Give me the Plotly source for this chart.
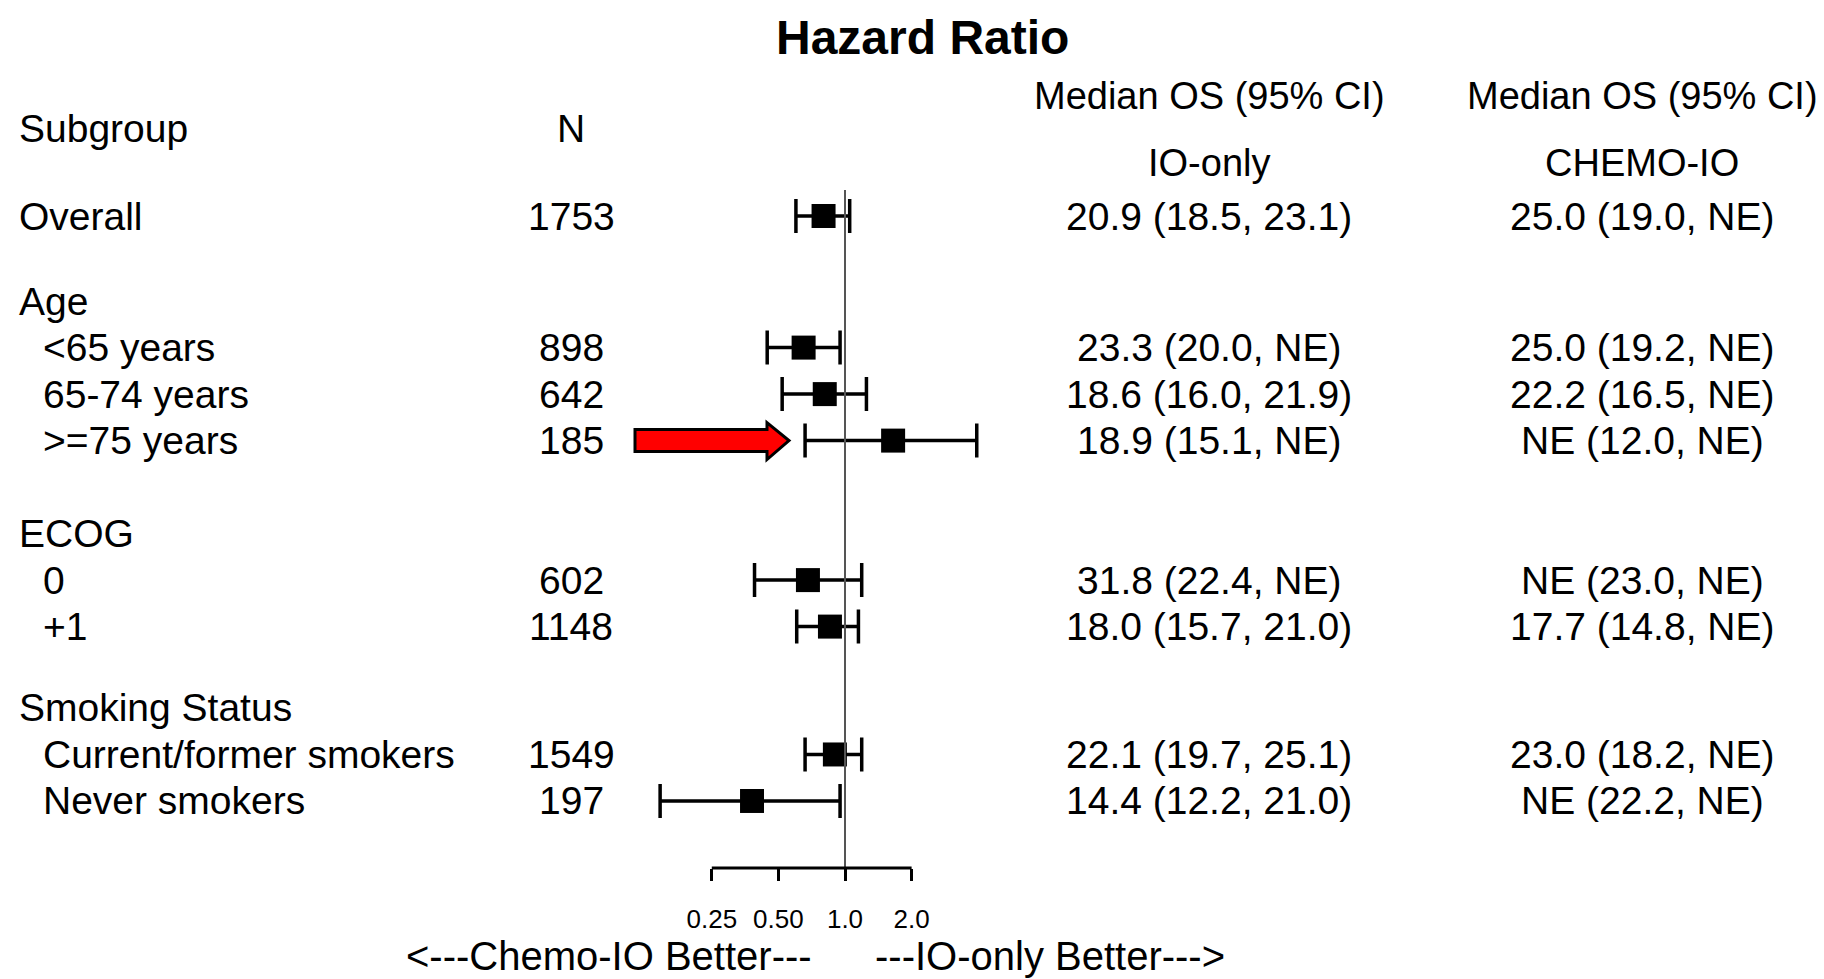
import plotly.graph_objects as go

# ---------------- data ----------------
subgroups = ["Overall", "Age", "<65 years", "65-74 years", ">=75 years", "ECOG", "0", "+1",
             "Smoking Status", "Current/former smokers", "Never smokers"]
is_header = [False, True, False, False, False, True, False, False, True, False, False]
indented = [False, False, True, True, True, False, True, True, False, True, True]
n_values = ["1753", "", "898", "642", "185", "", "602", "1148", "", "1549", "197"]
hr = [0.80, None, 0.65, 0.81, 1.65, None, 0.68, 0.855, None, 0.90, 0.38]
hr_low = [0.60, None, 0.445, 0.52, 0.66, None, 0.39, 0.605, None, 0.66, 0.146]
hr_high = [1.05, None, 0.95, 1.25, 3.94, None, 1.19, 1.15, None, 1.19, 0.95]
os_io = ["20.9 (18.5, 23.1)", "", "23.3 (20.0, NE)", "18.6 (16.0, 21.9)", "18.9 (15.1, NE)", "",
         "31.8 (22.4, NE)", "18.0 (15.7, 21.0)", "", "22.1 (19.7, 25.1)", "14.4 (12.2, 21.0)"]
os_chemo = ["25.0 (19.0, NE)", "", "25.0 (19.2, NE)", "22.2 (16.5, NE)", "NE (12.0, NE)", "",
            "NE (23.0, NE)", "17.7 (14.8, NE)", "", "23.0 (18.2, NE)", "NE (22.2, NE)"]
tick_vals = [0.25, 0.5, 1.0, 2.0]
tick_text = ["0.25", "0.50", "1.0", "2.0"]
highlight_row = ">=75 years"

# ---------------- layout helpers ----------------
W, H = 1824, 979
PLOT_BOTTOM = 868          # pixel row of the HR axis line
ROW_PX = 46.5              # pixel height of one row
FIRST_ROW_PX = 216         # pixel centre of the first row
FONT = "Liberation Sans, Arial, Helvetica, sans-serif"
FS = 39
HEADER_GAPS = [1.83, 2.0, 1.75]   # spacing (rows) before each group header

# row positions (row units)
ypos = []
pos = 0.0
g = 0
for i, h in enumerate(is_header):
    if i > 0:
        if h:
            pos += HEADER_GAPS[g]
            g += 1
        else:
            pos += 1.0
    ypos.append(pos)

y_top = -FIRST_ROW_PX / ROW_PX
y_bot = (PLOT_BOTTOM - FIRST_ROW_PX) / ROW_PX

PX_PER_DEC = 66.6 / 0.30103
X_ONE = 845
x_lo = -X_ONE / PX_PER_DEC
x_hi = (W - X_ONE) / PX_PER_DEC


def xp(px):
    return px / W


def yp(py):
    return 1 - py / PLOT_BOTTOM


fig = go.Figure()

# forest points
rows = [i for i in range(len(subgroups)) if hr[i] is not None]
fig.add_trace(go.Scatter(
    x=[hr[i] for i in rows],
    y=[ypos[i] for i in rows],
    mode="markers",
    marker=dict(symbol="square", size=24, color="black"),
    error_x=dict(type="data", symmetric=False,
                 array=[hr_high[i] - hr[i] for i in rows],
                 arrayminus=[hr[i] - hr_low[i] for i in rows],
                 color="black", thickness=3.5, width=17),
    cliponaxis=False,
    showlegend=False,
    hoverinfo="skip",
))

ann = []


def txt(x, y, s, anchor="left", size=FS, yref="y", bold=False):
    ann.append(dict(x=x, y=y, xref="paper", yref=yref, text=("<b>%s</b>" % s) if bold else s,
                    showarrow=False, xanchor=anchor, yanchor="middle",
                    font=dict(family=FONT, size=size, color="black")))


# headers
txt(xp(922), yp(38), "Hazard Ratio", "center", 48, "paper", True)
txt(xp(17), yp(128), "Subgroup", "left", FS, "paper")
txt(xp(571), yp(128), "N", "center", FS, "paper")
txt(xp(1209), yp(96), "Median OS (95% CI)", "center", 38, "paper")
txt(xp(1642), yp(96), "Median OS (95% CI)", "center", 38, "paper")
txt(xp(1209), yp(163), "IO-only", "center", 38, "paper")
txt(xp(1642), yp(163), "CHEMO-IO", "center", 38, "paper")

for i, s in enumerate(subgroups):
    txt(xp(41 if indented[i] else 17), ypos[i], s, "left")
    if n_values[i]:
        txt(xp(571), ypos[i], n_values[i], "center")
    if os_io[i]:
        txt(xp(1209), ypos[i], os_io[i], "center")
    if os_chemo[i]:
        txt(xp(1642), ypos[i], os_chemo[i], "center")

txt(xp(609), yp(956), "&lt;---Chemo-IO Better---", "center", 40, "paper")
txt(xp(1050), yp(956), "---IO-only Better---&gt;", "center", 40, "paper")

shapes = []
# reference line at HR = 1
shapes.append(dict(type="line", xref="x", yref="paper", x0=1, x1=1, y0=yp(190), y1=0,
                   line=dict(color="#555555", width=2)))
# axis base line from first to last tick
shapes.append(dict(type="line", xref="x", yref="paper", x0=tick_vals[0], x1=tick_vals[-1],
                   y0=0, y1=0, line=dict(color="black", width=3)))

# red arrow pointing at the highlighted row
hy = ypos[subgroups.index(highlight_row)]
cy = FIRST_ROW_PX + ROW_PX * hy
pts = [(635, cy - 11), (767, cy - 11), (767, cy - 18), (789, cy), (767, cy + 19),
       (767, cy + 11), (635, cy + 11)]
path = "M " + " L ".join("%.5f,%.5f" % (xp(a), yp(b)) for a, b in pts) + " Z"
shapes.append(dict(type="path", xref="paper", yref="paper", path=path,
                   fillcolor="#ff0000", line=dict(color="black", width=3)))

fig.update_layout(
    width=W, height=H,
    margin=dict(l=0, r=0, t=0, b=H - PLOT_BOTTOM, pad=0),
    paper_bgcolor="white", plot_bgcolor="white",
    showlegend=False,
    annotations=ann,
    shapes=shapes,
    xaxis=dict(type="log", range=[x_lo, x_hi], domain=[0, 1], showgrid=False, zeroline=False,
               showline=False, tickmode="array", tickvals=tick_vals, ticktext=tick_text,
               ticks="outside", ticklen=12, tickwidth=3, tickcolor="black",
               ticklabelstandoff=16,
               tickfont=dict(family=FONT, size=26, color="black"), fixedrange=True),
    yaxis=dict(range=[y_bot, y_top], visible=False, showgrid=False, zeroline=False,
               fixedrange=True),
)

fig.write_html("out.html")
